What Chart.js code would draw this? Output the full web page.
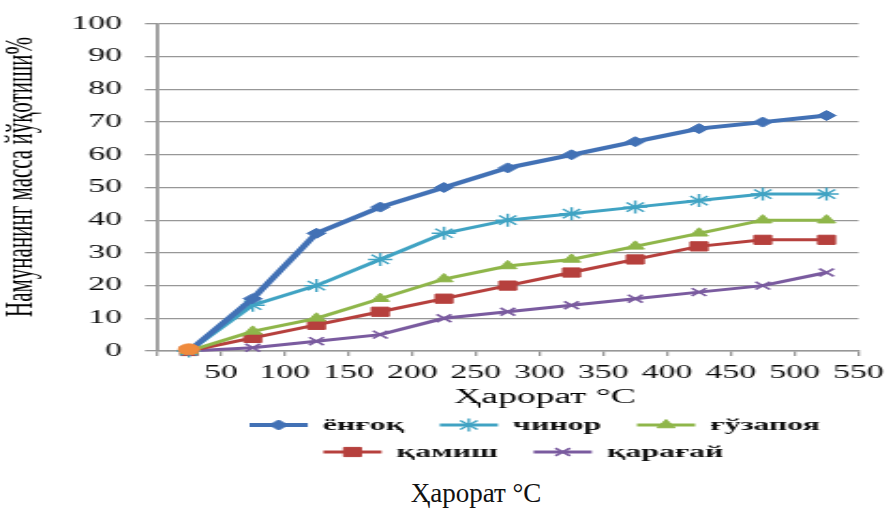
<!DOCTYPE html>
<html>
<head>
<meta charset="utf-8">
<script src="https://cdn.jsdelivr.net/npm/chart.js"></script>
<style>
  html, body { margin: 0; padding: 0; background: #fff; }
  #wrap { position: relative; width: 895px; height: 510px; overflow: hidden; background: #fff; }
  #c { display: block; filter: blur(0.35px); }
  #caption {
    position: absolute; left: 476px; top: 480px; transform: translateX(-50%);
    font: 27px "Liberation Serif", "Times New Roman", serif; line-height: 27px;
    color: #111; white-space: nowrap;
  }
</style>
</head>
<body>
<div id="wrap">
  <!-- the chart bitmap is drawn narrow and widened on screen -->
  <canvas id="c" width="477" height="470" style="width:895px;height:470px"></canvas>
  <div id="caption">Ҳарорат °C</div>
</div>
<script>
// Temperatures of the measurement points, °C
const temperatures = [25, 75, 125, 175, 225, 275, 325, 375, 425, 475, 525];

// Mass loss of each sample, %
const yongoq   = [0, 16, 36, 44, 50, 56, 60, 64, 68, 70, 72];
const chinor   = [0, 14, 20, 28, 36, 40, 42, 44, 46, 48, 48];
const guzapoya = [0, 6, 10, 16, 22, 26, 28, 32, 36, 40, 40];
const qamish   = [0, 4, 8, 12, 16, 20, 24, 28, 32, 34, 34];
const qaragay  = [0, 1, 3, 5, 10, 12, 14, 16, 18, 20, 24];

// Starting reference point
const startTemperature = [25];
const startValue = [0.5];

const seriesNames = ['ёнғоқ', 'чинор', 'ғўзапоя', 'қамиш', 'қарағай'];

// Axis tick labels
const xTickLabels = ['', '50', '100', '150', '200', '250', '300', '350', '400', '450', '500', '550'];
const yTickLabels = ['0', '10', '20', '30', '40', '50', '60', '70', '80', '90', '100'];

const yTitle = 'Намунанинг масса йўқотиши%';
const xTitle = 'Ҳарорат °C';

const toPoints = (xs, ys) => xs.map((x, i) => ({ x: x, y: ys[i] }));

function series(label, values, color, width, style, radius, pointBorder) {
  return {
    label: label,
    data: toPoints(temperatures, values),
    borderColor: color,
    backgroundColor: color,
    borderWidth: width,
    pointStyle: style,
    pointRadius: radius,
    pointHoverRadius: radius,
    pointBackgroundColor: color,
    pointBorderColor: color,
    pointBorderWidth: pointBorder,
    tension: 0,
    clip: false,
    order: 1
  };
}

const datasets = [
  series(seriesNames[0], yongoq,   '#4271b5', 4,   'rectRot',  5,   1),
  series(seriesNames[1], chinor,   '#40a3c3', 3,   'star',     6.5, 1.4),
  series(seriesNames[2], guzapoya, '#8fb64a', 3,   'triangle', 5.5, 1),
  series(seriesNames[3], qamish,   '#b6403d', 3,   'rect',     6.5, 1),
  series(seriesNames[4], qaragay,  '#7a5b9f', 3,   'crossRot', 5.5, 1.6),
  {
    label: 'start',
    data: toPoints(startTemperature, startValue),
    showLine: false,
    pointStyle: 'circle',
    pointRadius: 5.5,
    pointHoverRadius: 5.5,
    pointBackgroundColor: '#ef8a3d',
    pointBorderColor: '#ef8a3d',
    pointBorderWidth: 1,
    clip: false,
    order: -1
  }
];

// Two-row legend with line samples, plus the axis titles
const legendRows = [[0, 1, 2], [3, 4]];
const legendRowCenter = [285, 279];
const legendRowY = [425, 452];

const annotations = {
  id: 'annotations',
  afterDraw(chart) {
    const ctx = chart.ctx;
    ctx.save();

    // y axis title
    ctx.fillStyle = '#000';
    ctx.font = '21px "Liberation Serif", serif';
    ctx.textAlign = 'center';
    ctx.textBaseline = 'middle';
    ctx.translate(11.7, 177);
    ctx.rotate(-Math.PI / 2);
    ctx.fillText(yTitle, 0, 0);
    ctx.setTransform(1, 0, 0, 1, 0, 0);

    // x axis title
    ctx.font = '20px "Liberation Serif", serif';
    ctx.textBaseline = 'alphabetic';
    ctx.fillText(xTitle, 290.5, 403);

    // legend
    ctx.font = 'bold 17px "Liberation Serif", serif';
    ctx.textAlign = 'left';
    ctx.textBaseline = 'middle';
    const lineLen = 31, textGap = 8, itemGap = 19;
    legendRows.forEach((row, r) => {
      const widths = row.map(i => lineLen + textGap + ctx.measureText(chart.data.datasets[i].label).width);
      const total = widths.reduce((a, b) => a + b, 0) + itemGap * (row.length - 1);
      let x = legendRowCenter[r] - total / 2;
      const y = legendRowY[r];
      row.forEach((i, k) => {
        const ds = chart.data.datasets[i];
        ctx.strokeStyle = ds.borderColor;
        ctx.lineWidth = ds.borderWidth;
        ctx.beginPath();
        ctx.moveTo(x, y);
        ctx.lineTo(x + lineLen, y);
        ctx.stroke();
        ctx.fillStyle = ds.pointBackgroundColor;
        ctx.strokeStyle = ds.pointBorderColor;
        ctx.lineWidth = ds.pointBorderWidth;
        Chart.helpers.drawPoint(ctx, {
          pointStyle: ds.pointStyle, radius: ds.pointRadius,
          borderWidth: ds.pointBorderWidth, rotation: 0
        }, x + lineLen / 2, y);
        ctx.fillStyle = '#111';
        ctx.fillText(ds.label, x + lineLen + textGap, y + 1);
        x += widths[k] + itemGap;
      });
    });
    ctx.restore();
  }
};

const gridColor = '#979797';

new Chart(document.getElementById('c'), {
  type: 'line',
  data: { datasets: datasets },
  options: {
    responsive: false,
    animation: false,
    devicePixelRatio: 1,
    layout: { padding: { top: 24, left: 0, right: 15.9, bottom: 59 } },
    plugins: {
      legend: { display: false },
      tooltip: { enabled: false }
    },
    scales: {
      x: {
        type: 'linear',
        min: 0,
        max: 550,
        afterFit(scale) { scale.height = 60; },
        grid: { drawOnChartArea: false, drawTicks: true, tickLength: 5, color: gridColor, lineWidth: 1.3 },
        border: { display: true, color: gridColor, width: 1.4 },
        ticks: {
          stepSize: 50,
          autoSkip: false,
          maxRotation: 0,
          padding: 6,
          color: '#0a0a0a',
          font: { family: '"Liberation Serif", serif', size: 18 },
          callback: (v, i) => xTickLabels[i]
        }
      },
      y: {
        min: 0,
        max: 100,
        afterFit(scale) { scale.width = 83.7; },
        grid: { drawTicks: true, tickLength: 6.4, color: gridColor, lineWidth: 1.3 },
        border: { display: true, color: gridColor, width: 1.8 },
        ticks: {
          stepSize: 10,
          padding: 12.3,
          color: '#0a0a0a',
          font: { family: '"Liberation Serif", serif', size: 18 },
          callback: (v, i) => yTickLabels[i]
        }
      }
    }
  },
  plugins: [annotations]
});
</script>
</body>
</html>
